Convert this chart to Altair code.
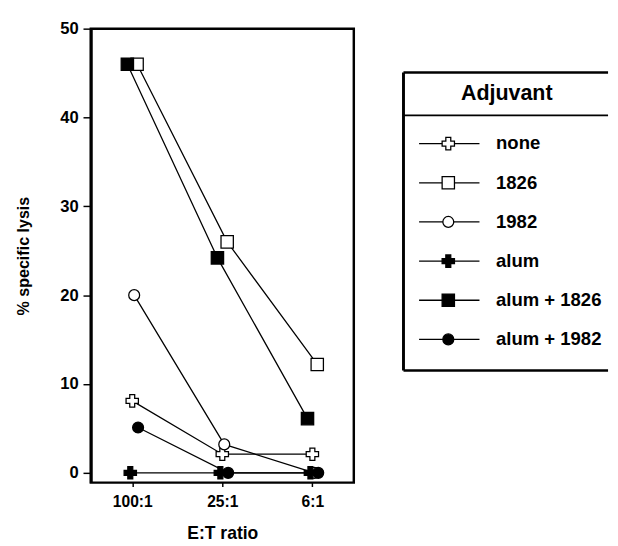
import altair as alt
import pandas as pd

# ---- data ----
ratios = ["100:1", "25:1", "6:1"]
series = ["none", "1826", "1982", "alum", "alum + 1826", "alum + 1982"]
none_vals = [8.1, 2.1, 2.1]
v1826_vals = [46, 26, 12.2]
v1982_vals = [20, 3.2, 0]
alum_vals = [0, 0, 0]
alum1826_vals = [46, 24.2, 6.1]
alum1982_vals = [5.1, 0, 0]
legend_title = ["Adjuvant"]

all_vals = [none_vals, v1826_vals, v1982_vals, alum_vals, alum1826_vals, alum1982_vals]

# ---- styles ----
shapes = ["cross", "square", "circle", "cross", "square", "circle"]
fills = ["white", "white", "white", "black", "black", "black"]
sizes = [160, 160, 125, 160, 160, 125]
dodge = [0, 5, 2, -2, -5, 6]
FONT = "Liberation Sans"

rows = []
for name, vals in zip(series, all_vals):
    for i, (r, v) in enumerate(zip(ratios, vals)):
        rows.append({"series": name, "ratio": r, "idx": i, "lysis": v})
df = pd.DataFrame(rows)

X = alt.X("ratio:O", sort=ratios, title="E:T ratio",
          scale=alt.Scale(type="point", padding=0.46),
          axis=alt.Axis(labelAngle=0, tickSize=4, labelPadding=8, titlePadding=15,
                        titleFontSize=18,
                        domain=False, ticks=True, tickColor="black", tickWidth=1.5))
Y = alt.Y("lysis:Q", title="% specific lysis",
          scale=alt.Scale(domain=[-1.1, 50], nice=False, zero=False),
          axis=alt.Axis(values=[0, 10, 20, 30, 40, 50], tickSize=8, labelPadding=5,
                        labelFontSize=17, titleFontSize=16.5,
                        titlePadding=29, grid=False, domainWidth=3, domainColor="black",
                        tickColor="black", tickWidth=1.5))

base = alt.Chart(df)
layers = []
for name, shp, fl, sz, off in zip(series, shapes, fills, sizes, dodge):
    sub = base.transform_filter(alt.datum.series == name)
    layers.append(sub.mark_line(color="black", strokeWidth=1.3, xOffset=off).encode(
        x=X, y=Y, order=alt.Order("idx:Q")))
for name, shp, fl, sz, off in zip(series, shapes, fills, sizes, dodge):
    sub = base.transform_filter(alt.datum.series == name)
    layers.append(sub.mark_point(shape=shp, filled=True, fill=fl, stroke="black",
                                 strokeWidth=1.3, size=sz, opacity=1, xOffset=off).encode(
        x=X, y=Y))

plot = alt.layer(*layers).properties(width=270, height=466)

# ---- legend panel ----
leg_df = pd.DataFrame({"series": series})
tdf = pd.DataFrame({"t": legend_title})
LW = 210
YL = alt.Y("series:N", sort=series, axis=None,
           scale=alt.Scale(type="point", range=[118, 319], padding=0))
lbase = alt.Chart(leg_df)
tbase = alt.Chart(tdf)
leg_layers = [
    tbase.mark_rule(color="black", strokeWidth=2.5).encode(
        x=alt.value(0), x2=alt.value(LW), y=alt.value(45)),
    tbase.mark_rule(color="black", strokeWidth=2).encode(
        x=alt.value(0), x2=alt.value(LW), y=alt.value(89)),
    tbase.mark_rule(color="black", strokeWidth=2.5).encode(
        x=alt.value(0), x2=alt.value(LW), y=alt.value(351)),
    tbase.mark_rule(color="black", strokeWidth=3).encode(
        x=alt.value(0), y=alt.value(45), y2=alt.value(351)),
    tbase.mark_text(font=FONT, fontSize=22, fontWeight="bold", align="center",
                    baseline="middle").encode(
        x=alt.value(106), y=alt.value(66), text="t:N"),
    lbase.mark_rule(color="black", strokeWidth=1.3).encode(
        x=alt.value(16), x2=alt.value(78), y=YL),
]
for name, shp, fl, sz in zip(series, shapes, fills, sizes):
    sub = lbase.transform_filter(alt.datum.series == name)
    leg_layers.append(sub.mark_point(shape=shp, filled=True, fill=fl, stroke="black",
                                     strokeWidth=1.3, size=sz, opacity=1).encode(
        x=alt.value(46), y=YL))
leg_layers.append(lbase.mark_text(font=FONT, fontSize=19, fontWeight="bold", align="left",
                                  baseline="middle").encode(
    x=alt.value(95), y=YL, text="series:N"))

legend = alt.layer(*leg_layers).properties(width=LW, height=466,
                                           view=alt.ViewBackground(stroke=None))

chart = alt.hconcat(plot, legend, spacing=47).resolve_scale(
    x="independent", y="independent"
).properties(
    padding={"left": 6, "top": 3, "right": 0, "bottom": 0}
).configure_view(
    stroke="black", strokeWidth=2.5
).configure_axis(
    labelFont=FONT, titleFont=FONT, labelFontSize=16, titleFontSize=16,
    labelFontWeight="bold", titleFontWeight="bold", labelColor="black", titleColor="black"
)

chart.save("out.html", embed_options={"renderer": "svg", "actions": False})
